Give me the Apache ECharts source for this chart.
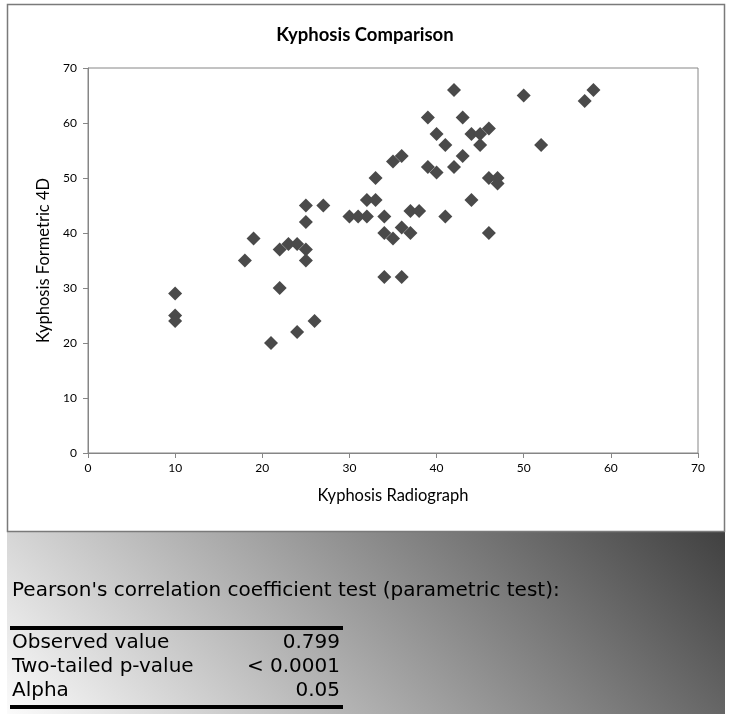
<!DOCTYPE html>
<html>
<head>
<meta charset="utf-8">
<script src="https://cdn.jsdelivr.net/npm/echarts@6/dist/echarts.min.js"></script>
<style>html,body{margin:0;padding:0;background:#fff}#c{width:730px;height:714px}</style>
</head>
<body>
<div id="c"></div>
<script>
const radiograph = [10,10,10,18,19,21,22,22,23,24,24,25,25,25,25,26,27,30,31,32,32,33,33,34,34,34,35,35,36,36,36,37,37,38,39,39,40,40,41,41,42,42,43,43,44,44,45,45,46,46,46,47,47,50,52,57,58];
const formetric  = [29,25,24,35,39,20,37,30,38,38,22,37,35,42,45,24,45,43,43,43,46,46,50,43,40,32,53,39,54,41,32,44,40,44,61,52,58,51,56,43,66,52,61,54,58,46,58,56,59,50,40,50,49,65,56,64,66];
const axisTicks = [0,10,20,30,40,50,60,70];
const chartTitle = 'Kyphosis Comparison';
const xTitle = 'Kyphosis Radiograph';
const yTitle = 'Kyphosis Formetric 4D';
const testTitle = "Pearson's correlation coefficient test (parametric test):";
const statLabels = ['Observed value','Two-tailed p-value','Alpha'];
const statValues = ['0.799','< 0.0001','0.05'];

const points = radiograph.map((x,i)=>[x, formetric[i]]);
const chart = echarts.init(document.getElementById('c'), null, {renderer:'canvas'});
const axisCommon = {
  type:'value', min:axisTicks[0], max:axisTicks[axisTicks.length-1], interval:10,
  axisLine:{show:true, lineStyle:{color:'#868686', width:1}},
  axisTick:{show:true, inside:false, length:5, lineStyle:{color:'#868686'}},
  splitLine:{show:false},
  axisLabel:{color:'#000', fontFamily:'Lato', fontSize:12},
  nameLocation:'middle',
  nameTextStyle:{color:'#000', fontFamily:'Lato', fontSize:16.5}
};
const bfont = '20px "DejaVu Sans", sans-serif';
const graphics = [
  {type:'rect', z:-10, shape:{x:7, y:531.5, width:718, height:183},
   style:{fill:new echarts.graphic.LinearGradient(7,714,480,250,[{offset:0,color:'#fbfbfb'},{offset:1,color:'#3a3a3a'}],true)}},
  {type:'rect', z:-5, shape:{x:7.5, y:4.5, width:717, height:527},
   style:{fill:'#fff', stroke:'#7a7a7a', lineWidth:1.5}},
  {type:'text', style:{text:testTitle, x:12, y:591, font:bfont, fill:'#000', align:'left', verticalAlign:'middle'}},
  {type:'rect', shape:{x:10, y:626, width:333, height:4}, style:{fill:'#000'}},
  {type:'rect', shape:{x:10, y:705, width:333, height:4}, style:{fill:'#000'}}
];
statLabels.forEach((lab,i)=>{
  graphics.push({type:'text', style:{text:lab, x:12, y:643+24*i, font:bfont, fill:'#000', align:'left', verticalAlign:'middle'}});
  graphics.push({type:'text', style:{text:statValues[i], x:340, y:643+24*i, font:bfont, fill:'#000', align:'right', verticalAlign:'middle'}});
});
chart.setOption({
  animation:false,
  backgroundColor:'#fff',
  title:{text:chartTitle, left:'center', top:21, textStyle:{fontFamily:'Lato', fontWeight:'bold', fontSize:18.5, color:'#000'}},
  grid:{left:88, right:32, top:68, bottom:261, show:true, borderColor:'#868686', borderWidth:1, backgroundColor:'#fff'},
  xAxis:Object.assign({}, axisCommon, {name:xTitle, nameGap:34, axisLabel:Object.assign({}, axisCommon.axisLabel, {margin:9})}),
  yAxis:Object.assign({}, axisCommon, {name:yTitle, nameGap:34, axisLabel:Object.assign({}, axisCommon.axisLabel, {margin:11})}),
  graphic:{elements:graphics},
  series:[{type:'scatter', data:points, symbol:'diamond', symbolSize:14, itemStyle:{color:'#4a4a4a', opacity:1}}]
});
</script>
</body>
</html>
